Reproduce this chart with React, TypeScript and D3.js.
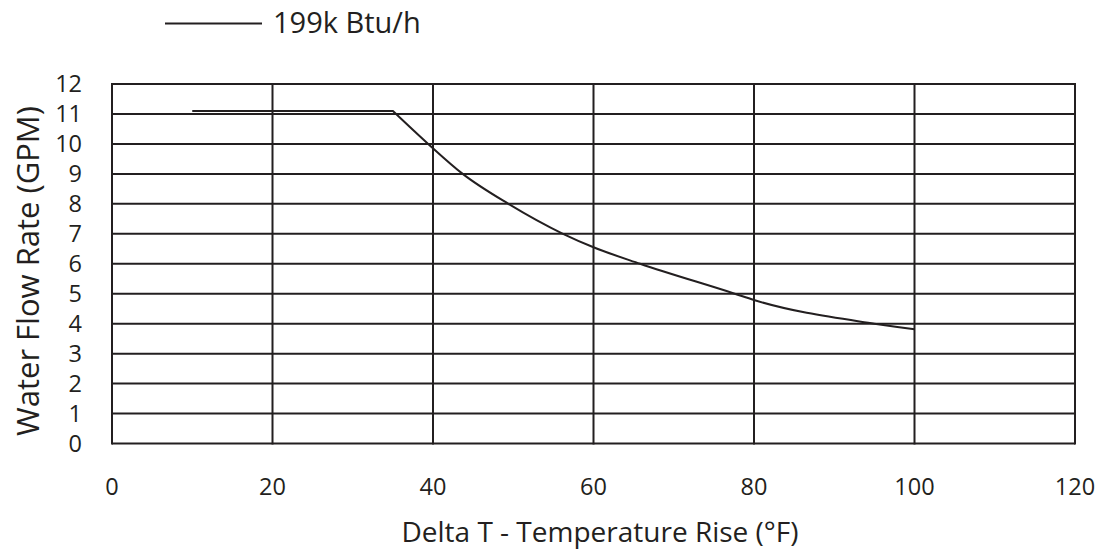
//@ts-nocheck
import * as d3 from "d3";
import { useEffect, useRef } from "react";

// values
const deltaT = [10, 35, 39.4, 43.7, 49.4, 56.2, 60, 65.8, 77.6, 80, 95, 98.1, 100];
const flowRate = [11.1, 11.1, 10, 9, 8, 7, 6.55, 6, 5, 4.79, 4, 3.88, 3.81];
const xTicks = [0, 20, 40, 60, 80, 100, 120];
const yTicks = [0, 1, 2, 3, 4, 5, 6, 7, 8, 9, 10, 11, 12];
const seriesName = "199k Btu/h";

const INK = "#231f20";
const FONT = "'Open Sans', sans-serif";

const App = () => {
  const ref = useRef(null);

  useEffect(() => {
    const svg = d3.select(ref.current);
    svg.selectAll("*").remove();

    const left = 112, right = 1075, top = 84, bottom = 443.5;
    const x = d3.scaleLinear().domain([0, 120]).range([left, right]);
    const y = d3.scaleLinear().domain([0, 12]).range([bottom, top]);

    // grid
    const g = svg.append("g").attr("stroke", INK).attr("stroke-width", 2);
    g.selectAll("line.h")
      .data(yTicks)
      .enter()
      .append("line")
      .attr("x1", left)
      .attr("x2", right)
      .attr("y1", d => y(d))
      .attr("y2", d => y(d));
    g.selectAll("line.v")
      .data(xTicks)
      .enter()
      .append("line")
      .attr("x1", d => x(d))
      .attr("x2", d => x(d))
      .attr("y1", top - 1)
      .attr("y2", bottom + 1);

    // tick labels
    svg.selectAll("text.yt")
      .data(yTicks)
      .enter()
      .append("text")
      .attr("x", 82)
      .attr("y", d => y(d))
      .attr("dy", "0.36em")
      .attr("text-anchor", "end")
      .attr("font-family", FONT)
      .attr("font-size", 23.5)
      .attr("fill", INK)
      .text(d => d);
    svg.selectAll("text.xt")
      .data(xTicks)
      .enter()
      .append("text")
      .attr("x", d => x(d))
      .attr("y", 495)
      .attr("text-anchor", "middle")
      .attr("font-family", FONT)
      .attr("font-size", 23.5)
      .attr("fill", INK)
      .text(d => d);

    // curve: flat part is straight, the drop after the knee is smooth
    const pts = deltaT.map((d, i) => [x(d), y(flowRate[i])]);
    svg.append("path")
      .attr("d", d3.line()(pts.slice(0, 2)) + d3.line().curve(d3.curveMonotoneX)(pts.slice(1)).replace(/^M/, "L"))
      .attr("fill", "none")
      .attr("stroke", INK)
      .attr("stroke-width", 2)
      .attr("stroke-linejoin", "miter");

    // axis titles
    svg.append("text")
      .attr("transform", "translate(39," + 271 + ") rotate(-90)")
      .attr("text-anchor", "middle")
      .attr("font-family", FONT)
      .attr("font-size", 31)
      .attr("fill", INK)
      .text("Water Flow Rate (GPM)");
    svg.append("text")
      .attr("x", 600)
      .attr("y", 542)
      .attr("text-anchor", "middle")
      .attr("font-family", FONT)
      .attr("font-size", 28)
      .attr("fill", INK)
      .text("Delta T - Temperature Rise (°F)");

    // legend
    svg.append("line")
      .attr("x1", 165)
      .attr("x2", 262)
      .attr("y1", 23.5)
      .attr("y2", 23.5)
      .attr("stroke", INK)
      .attr("stroke-width", 2);
    svg.append("text")
      .attr("x", 273)
      .attr("y", 33)
      .attr("font-family", FONT)
      .attr("font-size", 29)
      .attr("fill", INK)
      .text(seriesName);
  }, []);

  return (
    <svg
      ref={ref}
      width={1102}
      height={554}
      style={{ position: "absolute", left: 0, top: 0, background: "#fff" }}
    ></svg>
  );
};

export default App;
